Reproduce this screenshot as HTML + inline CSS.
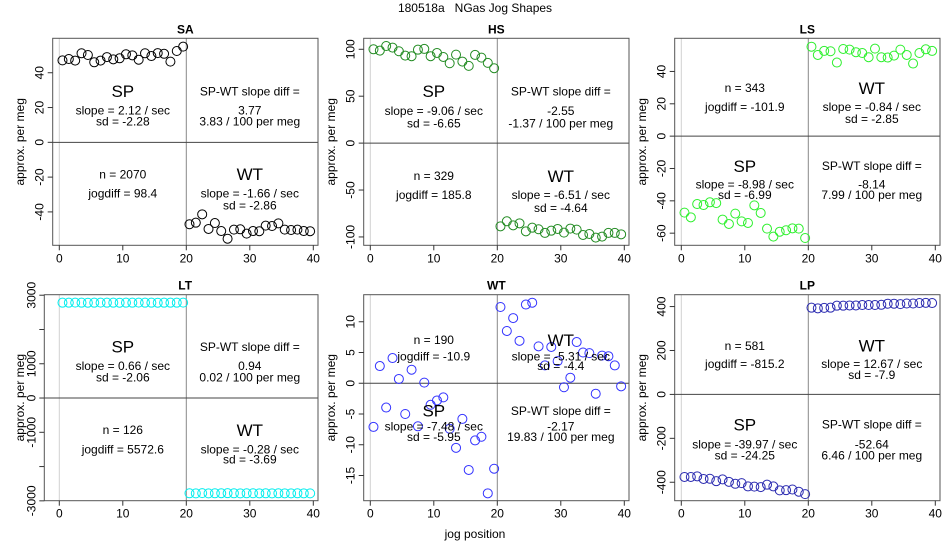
<!DOCTYPE html>
<html><head><meta charset="utf-8">
<style>
html,body{margin:0;padding:0;background:#fff;}
svg{display:block;font-family:"Liberation Sans",Arial,sans-serif;}
</style></head>
<body>
<svg id="chart" width="950" height="550" viewBox="0 0 950 550" xmlns="http://www.w3.org/2000/svg">
<text x="475" y="12" text-anchor="middle" font-size="12" style="white-space:pre" xml:space="preserve">180518a   NGas Jog Shapes</text>
<text x="475" y="538" text-anchor="middle" font-size="12">jog position</text>
</svg>
<script>
// ---- data ----
const panelNames = ["SA","HS","LS","LT","WT","LP"];
const spSA = [47.1,47.9,47.0,51.2,50.2,46.0,47.0,49.0,47.7,48.3,50.6,50.0,47.5,51.2,49.6,51.3,50.9,46.4,52.5,55.0];
const wtSA = [-47.1,-46.2,-41.4,-49.8,-46.4,-51,-55.4,-50.2,-50,-52.5,-51,-51.1,-47.9,-48.1,-46.6,-50.2,-50.4,-50.2,-51,-51.1];
const spHS = [100,98.6,103.5,101.8,97.9,93.3,92.6,99.6,100.4,92.6,96.1,91.8,85.1,94.3,86.9,82.3,94,91.1,85.5,79.8];
const wtHS = [-88.7,-83.3,-87.6,-85.5,-94,-90.1,-91.8,-95.7,-93.3,-91.5,-95.4,-91.1,-92.2,-97.9,-96.8,-100.7,-99.6,-95.7,-95.7,-97.2];
const spLS = [-47.3,-50.2,-42,-42.6,-40.9,-41.4,-51.6,-54.3,-47.9,-52.7,-53.7,-42.8,-47.5,-57.2,-62.1,-59.1,-58.2,-57,-57.2,-63];
const wtLS = [55.3,50.2,52.7,52.5,45.5,53.9,53.5,51.9,51.4,48.8,54.1,48.8,48.6,49.8,53.5,50.2,44.9,51.4,53.7,52.7];
const spLT = [2782,2782,2783,2782,2781,2782,2783,2782,2782,2781,2782,2782,2783,2782,2782,2781,2782,2782,2782,2783];
const wtLT = [-2780,-2782,-2775,-2782,-2780,-2778,-2776,-2780,-2782,-2780,-2779,-2781,-2780,-2782,-2780,-2781,-2782,-2780,-2781,-2782];
const spWT = [-7.1,2.8,-3.95,4.1,0.7,-5.0,2.2,-7.0,0.1,-3.5,-2.8,-2.3,-7.4,-10.5,-5.8,-14.1,-9.3,-8.7,-17.9,-13.9];
const wtWT = [12.4,8.5,10.6,6.9,12.8,13.1,6.0,2.9,5.9,3.6,-0.65,0.9,6.7,5.0,4.9,-1.7,4.5,4.4,2.9,-0.5];
const spLP = [-376,-376,-373,-385,-384,-395,-387,-398,-407,-404,-419,-420,-422,-411,-419,-437,-436,-433,-443,-454];
const wtLP = [395,392,394,395,404,404,405,405,407,407,407,408,413,413,411,414,414,416,417,416];
const spSeries = [spSA,spHS,spLS,spLT,spWT,spLP];
const wtSeries = [wtSA,wtHS,wtLS,wtLT,wtWT,wtLP];
const yTicks = [[-40,-20,0,20,40],[-100,-50,0,50,100],[-60,-40,-20,0,20,40],[-3000,-2000,-1000,0,1000,2000,3000],[-15,-10,-5,0,5,10],[-400,-200,0,200,400]];
const yTickLabels = [["-40","-20","0","20","40"],["-100","-50","0","50","100"],["-60","-40","-20","0","20","40"],["-3000","","-1000","0","1000","","3000"],["-15","-10","-5","0","5","10"],["-400","-200","0","200","400"]];
const xTicks = [0,10,20,30,40];
const nText = ["n = 2070","n = 329","n = 343","n = 126","n = 190","n = 581"];
const jogText = ["jogdiff = 98.4","jogdiff = 185.8","jogdiff = -101.9","jogdiff = 5572.6","jogdiff = -10.9","jogdiff = -815.2"];
const spSlope = ["slope = 2.12 / sec","slope = -9.06 / sec","slope = -8.98 / sec","slope = 0.66 / sec","slope = -7.48 / sec","slope = -39.97 / sec"];
const spSd = ["sd = -2.28","sd = -6.65","sd = -6.99","sd = -2.06","sd = -5.95","sd = -24.25"];
const wtSlope = ["slope = -1.66 / sec","slope = -6.51 / sec","slope = -0.84 / sec","slope = -0.28 / sec","slope = -5.31 / sec","slope = 12.67 / sec"];
const wtSd = ["sd = -2.86","sd = -4.64","sd = -2.85","sd = -3.69","sd = -4.4","sd = -7.9"];
const diffVal = ["3.77","-2.55","-8.14","0.94","-2.17","-52.64"];
const diffPer = ["3.83 / 100 per meg","-1.37 / 100 per meg","7.99 / 100 per meg","0.02 / 100 per meg","19.83 / 100 per meg","6.46 / 100 per meg"];

// ---- layout ----
const colors = ["#000000","#228B22","#2ef02e","#00eeee","#3333ff","#2a2ab0"];
const yRange = [[-59.2,59.8],[-108.9,111.7],[-67.5,60.5],[-2996,3015],[-19.1,14.4],[-484,454]];
const spTop = [true,true,false,true,false,false];
const textFr = [[.256,.348,.401,.657,.749,.807],[.255,.35,.41,.665,.757,.82],[.24,.33,.39,.617,.706,.757],
                [.252,.346,.40,.657,.75,.80],[.22,.30,.345,.563,.64,.69],[.247,.335,.39,.63,.725,.78]];
const svg = document.getElementById('chart');
const NS = "http://www.w3.org/2000/svg";
function mk(tag, attrs, parent){const e=document.createElementNS(NS,tag);for(const k in attrs)e.setAttribute(k,attrs[k]);(parent||svg).appendChild(e);return e;}

for(let p=0;p<6;p++){
  const col=p%3,row=Math.floor(p/3);
  const off=col*311, top=row?294.7:38.3, bot=row?500.7:245.3;
  const left=(p===3)?44.3:52.7+off, right=318+off;
  const x0=59.3+off, xs=6.35;
  const X=v=>x0+v*xs;
  const [ymin,ymax]=yRange[p];
  const Y=v=>bot-(v-ymin)/(ymax-ymin)*(bot-top);
  const g=mk('g',{});
  
  
  let l=mk('line',{x1:X(0),x2:X(0),y1:top,y2:bot,stroke:'#d0d0d0','stroke-width':1},g);
  
  l=mk('line',{x1:X(20),x2:X(20),y1:top,y2:bot,stroke:'#888','stroke-width':1},g);
  
  l=mk('line',{x1:left,x2:right,y1:Y(0),y2:Y(0),stroke:'#444','stroke-width':1},g);
  
  const box=mk('rect',{x:left,y:top,width:right-left,height:bot-top,fill:'none',stroke:'#555','stroke-width':1},g);
  
  const t=mk('text',{x:(left+right)/2+(p===3?4:0),y:top-5,'text-anchor':'middle','font-size':12,'font-weight':'bold'},g);
  t.textContent=panelNames[p];
  
  xTicks.forEach(v=>{
    mk('line',{x1:X(v),x2:X(v),y1:bot,y2:bot+5,stroke:'#333'},g);
    const tx=mk('text',{x:X(v),y:bot+17,'text-anchor':'middle','font-size':12},g);
    tx.textContent=v;
    
  });
  yTicks[p].forEach((v,i)=>{
    mk('line',{x1:left,x2:left-5,y1:Y(v),y2:Y(v),stroke:'#333'},g);
    const lab=yTickLabels[p][i];
    if(lab){
      const lx=left-9;
      const ty=mk('text',{x:lx,y:Y(v),'text-anchor':'middle','font-size':12,transform:`rotate(-90 ${lx} ${Y(v)})`},g);
      ty.textContent=lab;
      
    }
  });
  const yl=mk('text',{x:off+24,y:(top+bot)/2,'text-anchor':'middle','font-size':12,transform:`rotate(-90 ${off+24} ${(top+bot)/2})`},g);
  yl.textContent='approx. per meg';
  
  spSeries[p].forEach((v,i)=>{
    const c=mk('circle',{cx:X(i+0.5),cy:Y(v),r:4.5,fill:'none',stroke:colors[p],'stroke-width':1},g);
    
    
  });
  wtSeries[p].forEach((v,i)=>{
    const c=mk('circle',{cx:X(i+20.5),cy:Y(v),r:4.5,fill:'none',stroke:colors[p],'stroke-width':1},g);
    
    
  });
  const fr=textFr[p], H=bot-top;
  const ty=f=>top+f*H;
  const txt=(s,x,y,size,name)=>{const e=mk('text',{x:x,y:y+size*0.35,'text-anchor':'middle','font-size':size},g);e.textContent=s;};
  const spRow=spTop[p]?0:3, nRow=spTop[p]?3:0;
  const xl=X(10), xr=X(30);
  txt('SP',xl,ty(fr[spRow]),17,'sp-label');
  txt(spSlope[p],xl,ty(fr[spRow+1]),12,'sp-slope');
  txt(spSd[p],xl,ty(fr[spRow+2]),12,'sp-sd');
  txt('SP-WT slope diff =',xr,ty(fr[spRow]),12,'slope-diff-label');
  txt(diffVal[p],xr,ty(fr[spRow+1]),12,'slope-diff-value');
  txt(diffPer[p],xr,ty(fr[spRow+2]),12,'slope-diff-per-meg');
  txt(nText[p],xl,ty(fr[nRow]),12,'n-count');
  txt(jogText[p],xl,ty(fr[nRow+1]),12,'jogdiff');
  txt('WT',xr,ty(fr[nRow]),17,'wt-label');
  txt(wtSlope[p],xr,ty(fr[nRow+1]),12,'wt-slope');
  txt(wtSd[p],xr,ty(fr[nRow+2]),12,'wt-sd');
}
</script>
</body></html>
